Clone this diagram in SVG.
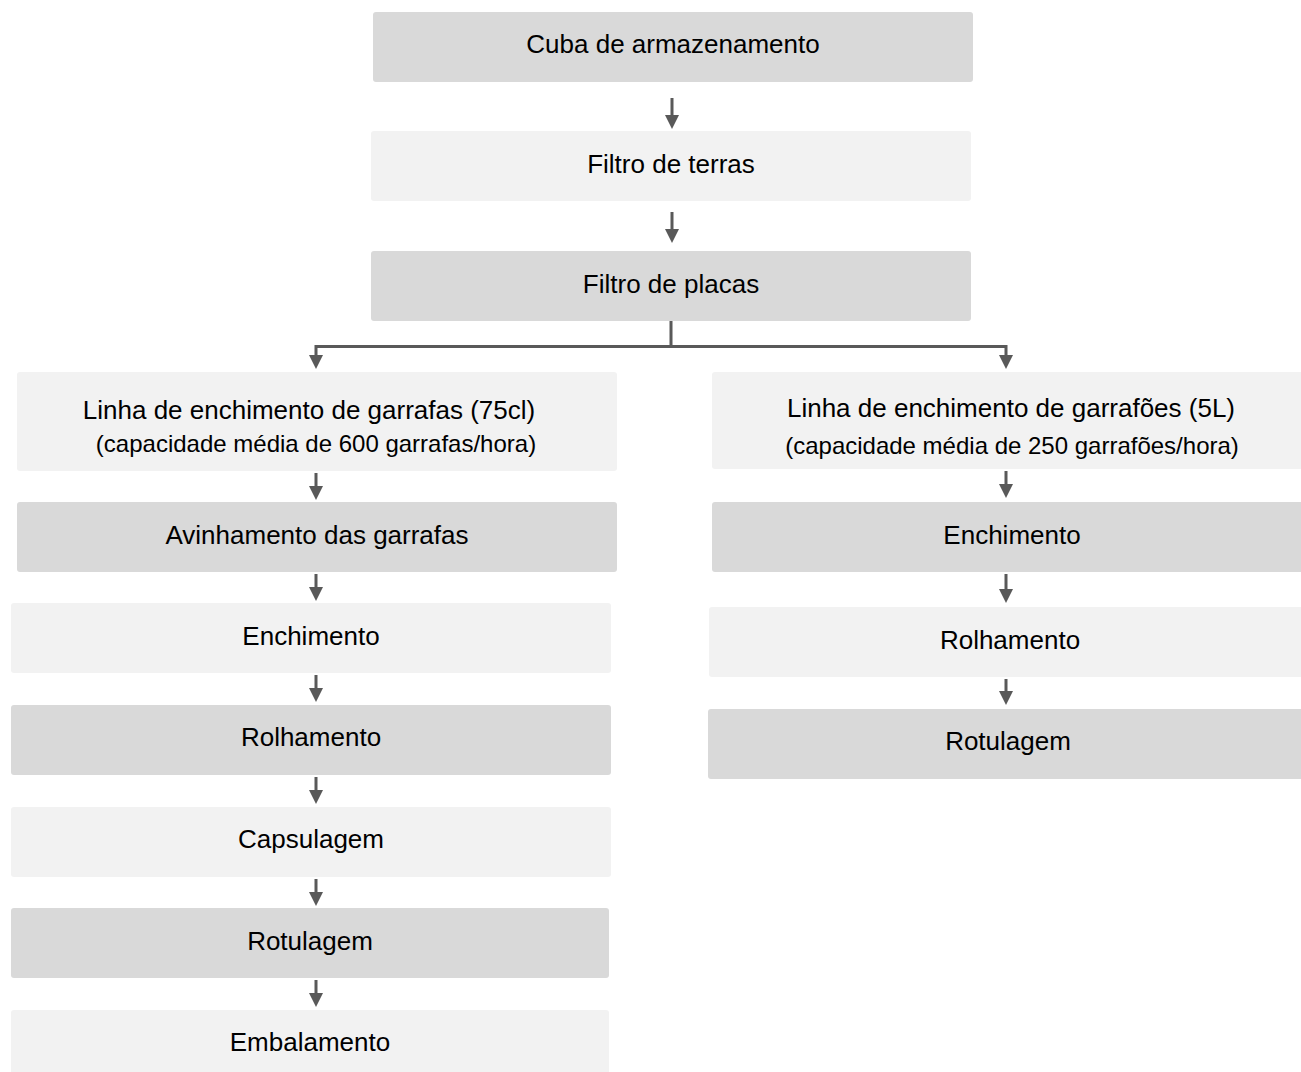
<svg xmlns="http://www.w3.org/2000/svg" width="1301" height="1072" viewBox="0 0 1301 1072">
<defs>
<style>
.dark{fill:#d9d9d9}
.light{fill:#f2f2f2}
text{font-family:"Liberation Sans",Arial,sans-serif;font-size:26px;fill:#000;text-anchor:middle;dominant-baseline:central}
text.sub{font-size:24px}
.conn line,.conn path{stroke:#595959;stroke-width:3;fill:none}
.conn polygon{fill:#595959}
</style>
</defs>
<rect width="1301" height="1072" fill="#ffffff"/>
<g id="n-cuba"><rect class="dark" x="373" y="12" width="600" height="70" rx="3"/><text x="673" y="44">Cuba de armazenamento</text></g>
<g id="n-terras"><rect class="light" x="371" y="131" width="600" height="70" rx="3"/><text x="671" y="164">Filtro de terras</text></g>
<g id="n-placas"><rect class="dark" x="371" y="251" width="600" height="70" rx="3"/><text x="671" y="284">Filtro de placas</text></g>
<g id="n-linha-garrafas"><rect class="light" x="17" y="372" width="600" height="99" rx="3"/><text x="309" y="410">Linha de enchimento de garrafas (75cl)</text><text class="sub" x="316" y="443">(capacidade média de 600 garrafas/hora)</text></g>
<g id="n-linha-garrafoes"><rect class="light" x="712" y="372" width="600" height="97" rx="3"/><text x="1011" y="408">Linha de enchimento de garrafões (5L)</text><text class="sub" x="1012" y="445">(capacidade média de 250 garrafões/hora)</text></g>
<g id="n-avinhamento"><rect class="dark" x="17" y="502" width="600" height="70" rx="3"/><text x="317" y="535">Avinhamento das garrafas</text></g>
<g id="n-enchimento-l"><rect class="light" x="11" y="603" width="600" height="70" rx="3"/><text x="311" y="636">Enchimento</text></g>
<g id="n-rolhamento-l"><rect class="dark" x="11" y="705" width="600" height="70" rx="3"/><text x="311" y="737">Rolhamento</text></g>
<g id="n-capsulagem"><rect class="light" x="11" y="807" width="600" height="70" rx="3"/><text x="311" y="839">Capsulagem</text></g>
<g id="n-rotulagem-l"><rect class="dark" x="11" y="908" width="598" height="70" rx="3"/><text x="310" y="941">Rotulagem</text></g>
<g id="n-embalamento"><rect class="light" x="11" y="1010" width="598" height="70" rx="3"/><text x="310" y="1042">Embalamento</text></g>
<g id="n-enchimento-r"><rect class="dark" x="712" y="502" width="600" height="70" rx="3"/><text x="1012" y="535">Enchimento</text></g>
<g id="n-rolhamento-r"><rect class="light" x="709" y="607" width="600" height="70" rx="3"/><text x="1010" y="640">Rolhamento</text></g>
<g id="n-rotulagem-r"><rect class="dark" x="708" y="709" width="600" height="70" rx="3"/><text x="1008" y="741">Rotulagem</text></g>
<g id="connectors" class="conn">
<line x1="672" y1="98" x2="672" y2="117"/><polygon points="665,115 679,115 672,129"/>
<line x1="672" y1="212" x2="672" y2="231"/><polygon points="665,229 679,229 672,243"/>
<path d="M671 321 V346.5 M314.5 346.5 H1007.5 M316 345 V357 M1006 345 V357"/>
<polygon points="309,355 323,355 316,369"/><polygon points="999,355 1013,355 1006,369"/>
<line x1="316" y1="473" x2="316" y2="488"/><polygon points="309,486 323,486 316,500"/>
<line x1="316" y1="574" x2="316" y2="589"/><polygon points="309,587 323,587 316,601"/>
<line x1="316" y1="675" x2="316" y2="690"/><polygon points="309,688 323,688 316,702"/>
<line x1="316" y1="777" x2="316" y2="792"/><polygon points="309,790 323,790 316,804"/>
<line x1="316" y1="879" x2="316" y2="894"/><polygon points="309,892 323,892 316,906"/>
<line x1="316" y1="980" x2="316" y2="995"/><polygon points="309,993 323,993 316,1007"/>
<line x1="1006" y1="471" x2="1006" y2="486"/><polygon points="999,484 1013,484 1006,498"/>
<line x1="1006" y1="574" x2="1006" y2="591"/><polygon points="999,589 1013,589 1006,603"/>
<line x1="1006" y1="679" x2="1006" y2="693"/><polygon points="999,691 1013,691 1006,705"/>
</g>
</svg>
